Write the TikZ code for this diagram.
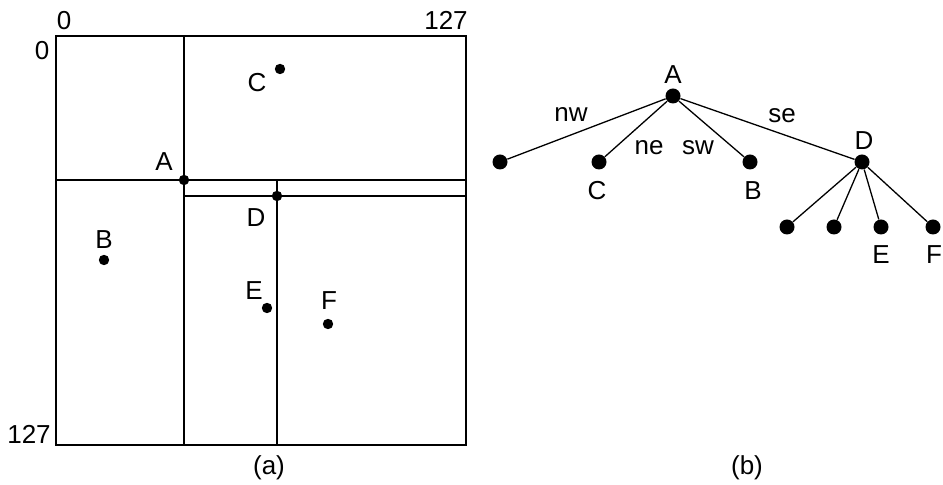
\documentclass[tikz,border=0pt]{standalone}
\usepackage{fontspec}
\setmainfont{Liberation Sans}
\usetikzlibrary{positioning}

\begin{document}
\begin{tikzpicture}[
  x=0.5pt, y=-0.5pt,
  font=\fontsize{13}{15}\selectfont,
  wall/.style={line width=1.3pt},
  split/.style={line width=1.1pt},
  pt/.style={circle, fill, inner sep=0pt, minimum size=5.2pt},
  leaf/.style={circle, fill, inner sep=0pt, minimum size=7.5pt},
  edge/.style={line width=0.65pt},
  lbl/.style={inner sep=0pt}
]
\useasboundingbox (0,0) rectangle (943,485);
% (a) the region split, corners of the 128x128 square
\coordinate (nwc) at (56,36);
\coordinate (sec) at (466,445);
\coordinate (xa) at (184,36);
\coordinate (xab) at (184,445);
\coordinate (ya) at (56,180);
\coordinate (yar) at (466,180);
\coordinate (yd) at (184,196);
\coordinate (ydr) at (466,196);
\coordinate (xd) at (277,180);
\coordinate (xdb) at (277,445);
\draw[wall] (nwc) rectangle (sec);
\draw[wall] (xa) -- (xab);
\draw[wall] (ya) -- (yar);
\draw[split] (yd) -- (ydr);
\draw[split] (xd) -- (xdb);
\node[lbl] (x0) at (64,21) {0};
\node[lbl] (x127) at (446,20) {127};
\node[lbl] (y0) at (42,51) {0};
\node[lbl] (y127) at (29,434) {127};
% points of the plane
\node[pt] (pA) at (184,180) {};
\node[pt] (pD) at (277,196) {};
\node[pt] (pC) at (280,69) {};
\node[pt] (pB) at (104,260) {};
\node[pt] (pE) at (267,308) {};
\node[pt] (pF) at (328,324) {};
\node[lbl] at (164,162) {A};
\node[lbl] at (256,218) {D};
\node[lbl] at (257,83) {C};
\node[lbl] at (104,240) {B};
\node[lbl] at (254,291) {E};
\node[lbl] at (329,301) {F};
\node[lbl] (capa) at (269,468) {(a)};
% (b) the point quadtree
\node[leaf] (tA) at (673,96) {};
\node[leaf] (tnw) at (500,162) {};
\node[leaf] (tC) at (599,162) {};
\node[leaf] (tB) at (750,162) {};
\node[leaf] (tD) at (862,162) {};
\node[leaf] (d1) at (787,227) {};
\node[leaf] (d2) at (834,227) {};
\node[leaf] (tE) at (881,227) {};
\node[leaf] (tF) at (933,227) {};
\draw[edge] (tA) -- (tnw);
\draw[edge] (tA) -- (tC);
\draw[edge] (tA) -- (tB);
\draw[edge] (tA) -- (tD);
\foreach \k in {d1,d2,tE,tF} \draw[edge] (tD) -- (\k);
\node[lbl] at (673,75) {A};
\node[lbl] at (864,141) {D};
\node[lbl] at (597,191) {C};
\node[lbl] at (753,191) {B};
\node[lbl] at (881,255) {E};
\node[lbl] at (934,255) {F};
\node[lbl] at (571,115) {nw};
\node[lbl] at (649,148) {ne};
\node[lbl] at (698,148) {sw};
\node[lbl] at (782,116) {se};
\node[lbl] (capb) at (747,468) {(b)};
\end{tikzpicture}
\end{document}
